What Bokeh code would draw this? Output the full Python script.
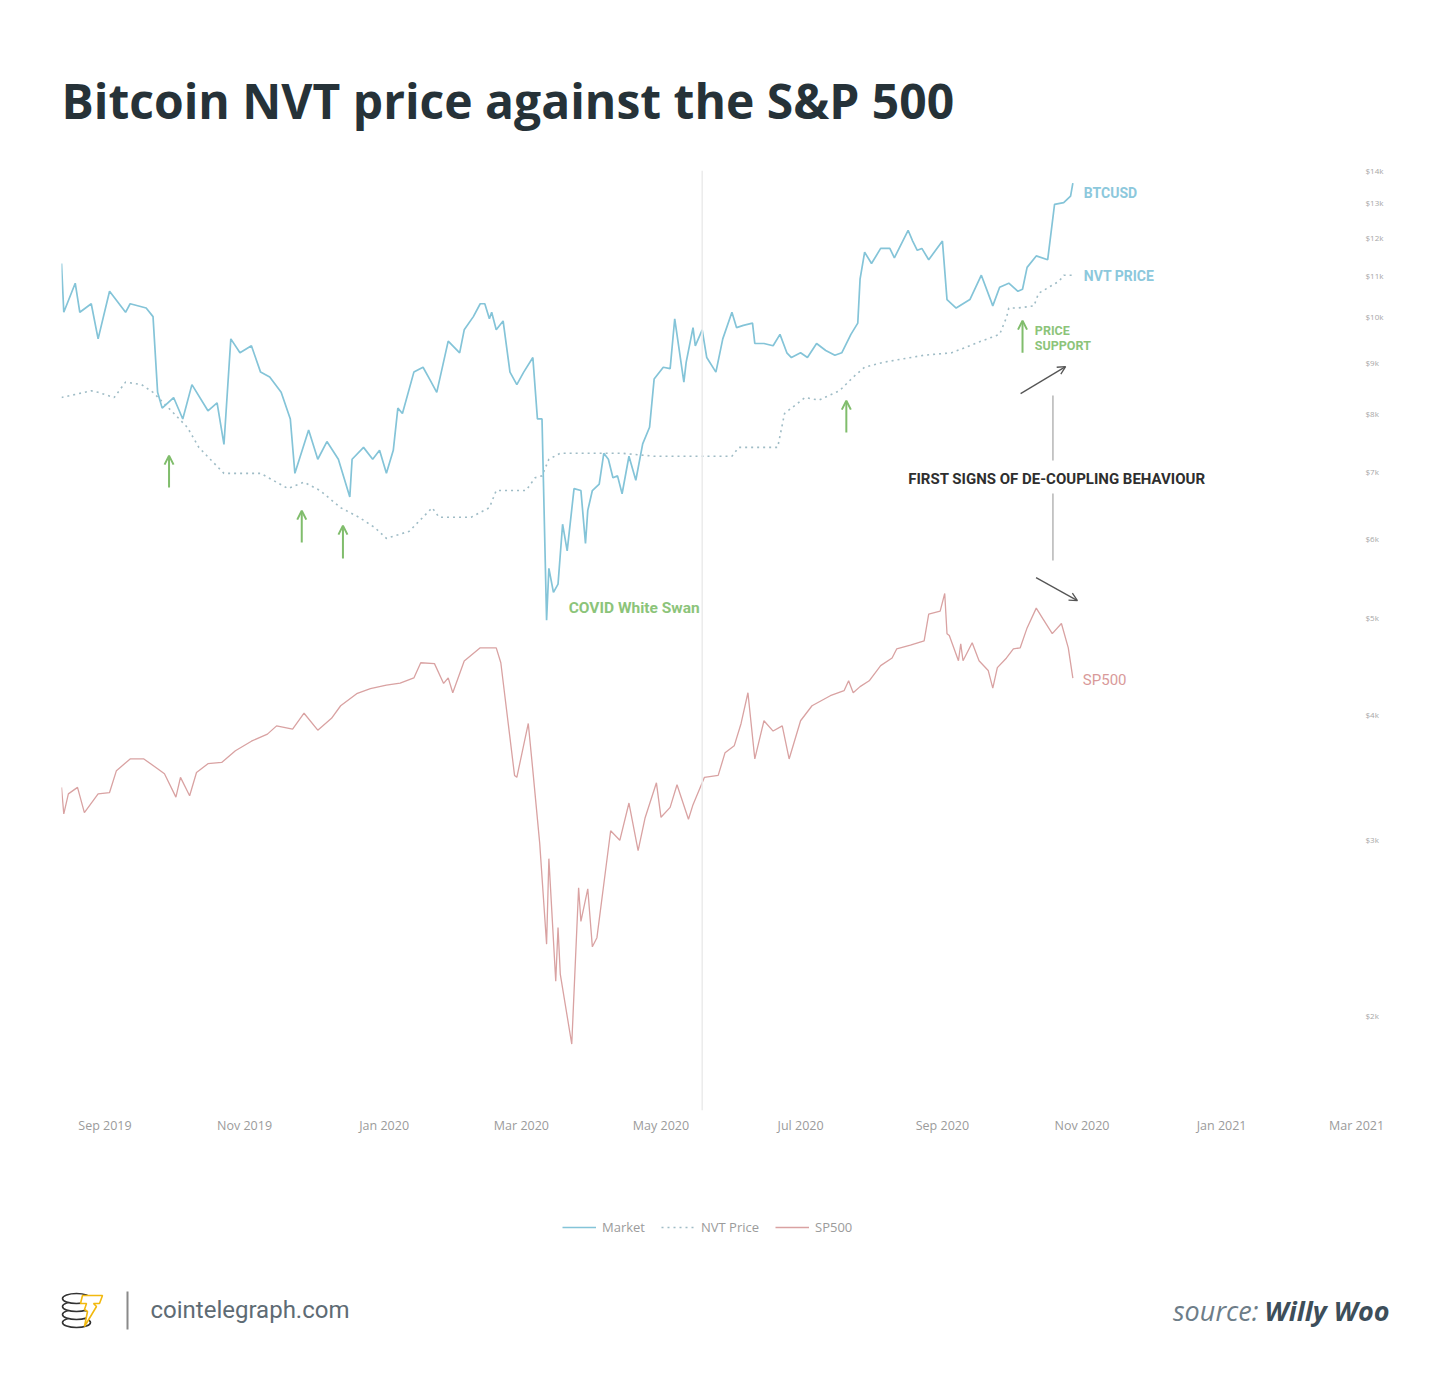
import pandas as pd
import numpy as np
from bokeh.plotting import figure
from bokeh.layouts import column
from bokeh.models import (Range1d, LogScale, FixedTicker, Span, Label, Arrow, OpenHead,
                          Legend, LegendItem)
from bokeh.embed import file_html
from bokeh.resources import INLINE

# ---------------- data ----------------
btc_dates = ["2019-08-13","2019-08-14","2019-08-19","2019-08-21","2019-08-26","2019-08-29","2019-09-03","2019-09-10","2019-09-12","2019-09-19",
             "2019-09-22","2019-09-24","2019-09-26","2019-10-01","2019-10-05","2019-10-09","2019-10-16","2019-10-20","2019-10-23","2019-10-26",
             "2019-10-30","2019-11-04","2019-11-08","2019-11-12","2019-11-17","2019-11-21","2019-11-23","2019-11-29","2019-12-03","2019-12-07",
             "2019-12-12","2019-12-17","2019-12-18","2019-12-23","2019-12-27","2019-12-30","2020-01-02","2020-01-05","2020-01-07","2020-01-09",
             "2020-01-14","2020-01-18","2020-01-21","2020-01-24","2020-01-29","2020-02-03","2020-02-05","2020-02-09","2020-02-12","2020-02-14",
             "2020-02-16","2020-02-17","2020-02-19","2020-02-22","2020-02-25","2020-02-28","2020-03-02","2020-03-06","2020-03-08","2020-03-10",
             "2020-03-12","2020-03-13","2020-03-15","2020-03-17","2020-03-19","2020-03-21","2020-03-24","2020-03-27","2020-03-29","2020-03-30",
             "2020-04-01","2020-04-04","2020-04-06","2020-04-08","2020-04-10","2020-04-12","2020-04-14","2020-04-17","2020-04-20","2020-04-23",
             "2020-04-26","2020-04-28","2020-05-02","2020-05-05","2020-05-07","2020-05-11","2020-05-12","2020-05-15","2020-05-16","2020-05-19",
             "2020-05-21","2020-05-25","2020-05-28","2020-06-01","2020-06-03","2020-06-06","2020-06-10","2020-06-11","2020-06-15","2020-06-19",
             "2020-06-22","2020-06-25","2020-06-27","2020-07-01","2020-07-04","2020-07-08","2020-07-12","2020-07-16","2020-07-19","2020-07-23",
             "2020-07-26","2020-07-27","2020-07-29","2020-08-01","2020-08-05","2020-08-09","2020-08-11","2020-08-17","2020-08-19","2020-08-21",
             "2020-08-23","2020-08-26","2020-09-01","2020-09-03","2020-09-07","2020-09-13","2020-09-18","2020-09-22","2020-09-23","2020-09-26",
             "2020-09-30","2020-10-04","2020-10-06","2020-10-08","2020-10-12","2020-10-17","2020-10-20","2020-10-24","2020-10-27","2020-10-28"]
btc_values = [11300,10100,10800,10100,10300,9500,10600,10100,10300,10200,
              10000,8400,8100,8300,7900,8550,8050,8200,7450,9500,
              9200,9350,8800,8700,8400,7900,6970,7700,7200,7500,
              7200,6600,7200,7400,7200,7350,6970,7350,8100,8000,
              8800,8900,8650,8400,9450,9200,9700,10000,10300,10300,
              9950,10100,9700,9900,8800,8550,8800,9100,7900,7900,
              4970,5600,5300,5400,6200,5830,6730,6700,5930,6400,
              6700,6800,7300,7200,6900,6930,6650,7250,6860,7460,
              7750,8660,8900,8870,9950,8600,9000,9750,9350,9700,
              9100,8800,9500,10100,9750,9800,9850,9400,9400,9350,
              9600,9200,9100,9200,9100,9400,9250,9150,9200,9600,
              9850,10900,11600,11300,11700,11700,11450,12200,11900,11650,
              11700,11400,11900,10400,10200,10400,11000,10400,10250,10700,
              10800,10600,10650,11200,11500,11400,12950,13000,13200,13600]

nvt_dates = ["2019-08-13","2019-08-26","2019-08-29","2019-09-05","2019-09-10","2019-09-17","2019-09-22","2019-09-30","2019-10-07","2019-10-12",
             "2019-10-17","2019-10-23","2019-11-08","2019-11-20","2019-11-27","2019-12-04","2019-12-13","2019-12-21","2019-12-28","2020-01-02",
             "2020-01-12","2020-01-22","2020-01-25","2020-02-08","2020-02-16","2020-02-19","2020-03-03","2020-03-07","2020-03-10","2020-03-13",
             "2020-03-18","2020-04-14","2020-04-28","2020-06-01","2020-06-04","2020-06-21","2020-06-24","2020-06-27","2020-07-03","2020-07-09",
             "2020-07-18","2020-07-24","2020-07-29","2020-08-06","2020-08-24","2020-09-05","2020-09-18","2020-09-26","2020-09-29","2020-09-30",
             "2020-10-04","2020-10-11","2020-10-13","2020-10-22","2020-10-24","2020-10-28"]
nvt_values = [8300,8430,8400,8300,8600,8550,8400,8050,7750,7400,
              7200,6970,6970,6730,6830,6700,6440,6300,6150,6000,
              6100,6440,6300,6300,6440,6700,6700,6900,6930,7200,
              7300,7300,7250,7250,7400,7400,8000,8100,8300,8250,
              8430,8700,8900,9000,9150,9200,9450,9600,9980,10200,
              10200,10250,10550,10850,11000,11000]

sp_dates = ["2019-08-13","2019-08-14","2019-08-16","2019-08-20","2019-08-23","2019-08-29","2019-09-03","2019-09-06","2019-09-12","2019-09-18",
            "2019-09-24","2019-09-27","2019-10-02","2019-10-04","2019-10-08","2019-10-11","2019-10-16","2019-10-22","2019-10-28","2019-11-04",
            "2019-11-11","2019-11-15","2019-11-22","2019-11-27","2019-12-03","2019-12-09","2019-12-13","2019-12-20","2019-12-26","2020-01-02",
            "2020-01-08","2020-01-14","2020-01-17","2020-01-23","2020-01-27","2020-01-29","2020-01-31","2020-02-05","2020-02-12","2020-02-19",
            "2020-02-21","2020-02-27","2020-02-28","2020-03-04","2020-03-06","2020-03-09","2020-03-12","2020-03-13","2020-03-16","2020-03-17",
            "2020-03-18","2020-03-23","2020-03-26","2020-03-27","2020-03-30","2020-04-01","2020-04-03","2020-04-09","2020-04-13","2020-04-17",
            "2020-04-21","2020-04-24","2020-04-29","2020-05-01","2020-05-05","2020-05-08","2020-05-13","2020-05-15","2020-05-20","2020-05-26",
            "2020-05-29","2020-06-02","2020-06-05","2020-06-08","2020-06-11","2020-06-15","2020-06-19","2020-06-23","2020-06-26","2020-07-01",
            "2020-07-06","2020-07-10","2020-07-14","2020-07-20","2020-07-22","2020-07-24","2020-07-27","2020-07-31","2020-08-05","2020-08-10",
            "2020-08-12","2020-08-18","2020-08-24","2020-08-26","2020-08-31","2020-09-02","2020-09-03","2020-09-04","2020-09-08","2020-09-09",
            "2020-09-10","2020-09-14","2020-09-17","2020-09-21","2020-09-23","2020-09-25","2020-09-29","2020-10-02","2020-10-05","2020-10-08",
            "2020-10-12","2020-10-15","2020-10-19","2020-10-23","2020-10-26","2020-10-28"]
sp_values = [2922,2841,2902,2922,2845,2902,2906,2974,3011,3011,
             2980,2964,2892,2953,2896,2968,2996,3000,3037,3068,
             3091,3118,3107,3160,3104,3143,3185,3226,3243,3255,
             3262,3280,3333,3330,3261,3280,3229,3339,3386,3386,
             3333,2959,2953,3126,2974,2754,2476,2710,2381,2520,
             2398,2228,2628,2536,2625,2469,2493,2791,2763,2874,
             2733,2828,2936,2831,2861,2930,2825,2869,2953,2959,
             3031,3053,3126,3229,3011,3135,3101,3118,3011,3135,
             3185,3202,3219,3236,3270,3229,3250,3270,3323,3350,
             3382,3396,3411,3509,3520,3586,3437,3430,3340,3400,
             3340,3404,3340,3306,3245,3316,3350,3382,3386,3458,
             3531,3490,3437,3474,3386,3279]

x_tick_dates = ["2019-09-01","2019-11-01","2020-01-01","2020-03-01","2020-05-01","2020-07-01",
                "2020-09-01","2020-11-01","2021-01-01","2021-03-01"]
x_tick_labels = ["Sep 2019","Nov 2019","Jan 2020","Mar 2020","May 2020","Jul 2020",
                 "Sep 2020","Nov 2020","Jan 2021","Mar 2021"]
y_tick_values = [2000,3000,4000,5000,6000,7000,8000,9000,10000,11000,12000,13000,14000]
y_tick_labels = ["$2k","$3k","$4k","$5k","$6k","$7k","$8k","$9k","$10k","$11k","$12k","$13k","$14k"]

# support arrows (date, tip value, tail value) on the BTC scale
support_dates = ["2019-09-29","2019-11-26","2019-12-14","2020-07-21","2020-10-06"]
support_tips = [7261,6397,6180,8241,9908]
support_tails = [6745,5943,5728,7656,9204]

divider_date = "2020-05-19"

legend_labels = ["Market", "NVT Price", "SP500"]

def ms(d):
    return pd.Timestamp(d).value / 1e6

W = 1434
HEAD_H, MAIN_H, FOOT_H = 140, 1010, 224
BTC_COLOR, NVT_COLOR, SP_COLOR = "#84c4d8", "#9fbcc6", "#d9a2a2"


def blank(height, y0):
    f = figure(width=W, height=height, x_range=Range1d(0, W), y_range=Range1d(y0 + height, y0),
               x_axis_location=None, y_axis_location=None, output_backend="svg",
               toolbar_location=None, min_border=0, frame_align=False)
    f.outline_line_color = None
    f.grid.visible = False
    return f

# ---------------- header ----------------
head = blank(HEAD_H, 0)
head.add_layout(Label(x=61, y=100, text="Bitcoin NVT price against the S&P 500", text_baseline="alphabetic",
                      text_font="Open Sans", text_font_style="bold", text_font_size="48px",
                      text_color="#263238"))

# ---------------- main chart ----------------
p = figure(width=W, height=MAIN_H, x_axis_type="datetime", y_axis_type="log",
           y_axis_location="right",
           x_range=Range1d(pd.Timestamp("2019-08-13"), pd.Timestamp("2021-03-03 14:00")),
           y_range=Range1d(1607, 14000),
           output_backend="svg", toolbar_location=None, frame_align=False,
           min_border_left=61, min_border_right=72, min_border_top=30, min_border_bottom=40)
p.extra_y_ranges = {"sp": Range1d(2077, 5606)}
p.extra_y_scales = {"sp": LogScale()}
p.outline_line_color = None
p.grid.visible = False

xa = p.xaxis[0]
xa.ticker = FixedTicker(ticks=[ms(d) for d in x_tick_dates])
xa.major_label_overrides = {ms(d): lab for d, lab in zip(x_tick_dates, x_tick_labels)}
xa.axis_line_color = None
xa.major_tick_line_color = None
xa.minor_tick_line_color = None
xa.major_label_standoff = 0
xa.major_label_text_font = "Open Sans"
xa.major_label_text_font_size = "12.5px"
xa.major_label_text_color = "#9b9b9b"

ya = p.yaxis[0]
ya.ticker = FixedTicker(ticks=y_tick_values)
ya.major_label_overrides = {v: lab for v, lab in zip(y_tick_values, y_tick_labels)}
ya.axis_line_color = None
ya.major_tick_line_color = None
ya.minor_tick_line_color = None
ya.major_label_standoff = -3
ya.major_label_text_font = "Open Sans"
ya.major_label_text_font_size = "8px"
ya.major_label_text_color = "#a6a6a6"

p.add_layout(Span(location=ms(divider_date), dimension="height", line_color="#ebebeb", line_width=1.5))

p.line(pd.to_datetime(sp_dates), sp_values, y_range_name="sp", line_color=SP_COLOR, line_width=1.3)
p.line(pd.to_datetime(nvt_dates), nvt_values, line_color=NVT_COLOR, line_width=1.6, line_dash="2 4")
p.line(pd.to_datetime(btc_dates), btc_values, line_color=BTC_COLOR, line_width=1.7)

green = "#8cc47a"
p.add_layout(Label(x=ms(btc_dates[-1]), y=btc_values[-1], text="BTCUSD", x_offset=11, y_offset=-9.5,
                   text_baseline="middle", text_font="Roboto", text_font_style="bold",
                   text_font_size="14px", text_color="#8cc8dc"))
p.add_layout(Label(x=ms(nvt_dates[-1]), y=nvt_values[-1], text="NVT PRICE", x_offset=11, y_offset=-1,
                   text_baseline="middle", text_font="Roboto", text_font_style="bold",
                   text_font_size="14px", text_color="#8cc8dc"))
p.add_layout(Label(x=ms(sp_dates[-1]), y=sp_values[-1], y_range_name="sp", text="SP500",
                   x_offset=10, y_offset=-1.5, text_baseline="middle", text_font="Roboto",
                   text_font_size="15px", text_color="#d99a9a"))

p.add_layout(Label(x=ms("2020-03-21 16:00"), y=5117, text="COVID White Swan", text_baseline="middle",
                   text_font="Roboto", text_font_style="bold", text_font_size="15.5px", text_color=green))
p.add_layout(Label(x=ms("2020-10-11 09:00"), y=9683, text="PRICE", text_baseline="middle",
                   text_font="Roboto", text_font_style="bold", text_font_size="12.5px", text_color=green))
p.add_layout(Label(x=ms("2020-10-11 09:00"), y=9354, text="SUPPORT", text_baseline="middle",
                   text_font="Roboto", text_font_style="bold", text_font_size="12.5px", text_color=green))
p.add_layout(Label(x=ms("2020-10-21"), y=6887, text="FIRST SIGNS OF DE-COUPLING BEHAVIOUR",
                   text_align="center", text_baseline="middle", text_font="Roboto",
                   text_font_style="bold", text_font_size="15px", text_color="#2e2e2e"))

for d, tip, tail in zip(support_dates, support_tips, support_tails):
    p.add_layout(Arrow(end=OpenHead(size=9, line_color="#80bd6c", line_width=2),
                       x_start=ms(d), y_start=tail, x_end=ms(d), y_end=tip,
                       line_color="#80bd6c", line_width=2))

gray = "#555555"
p.add_layout(Arrow(end=OpenHead(size=8, line_color=gray, line_width=1.3),
                   x_start=ms("2020-10-05 04:00"), y_start=8375, x_end=ms("2020-10-24 20:00"), y_end=8913,
                   line_color=gray, line_width=1.3))
p.add_layout(Arrow(end=OpenHead(size=8, line_color=gray, line_width=1.3),
                   x_start=ms("2020-10-11 22:00"), y_start=5483, x_end=ms("2020-10-30"), y_end=5200,
                   line_color=gray, line_width=1.3))
vx = ms("2020-10-19 07:00")
p.segment(x0=[vx, vx], y0=[8337, 6653], x1=[vx, vx], y1=[7178, 5702], line_color="#aaaaaa", line_width=1.3)

# ---------------- footer (legend + branding) ----------------
FOOT_Y0 = HEAD_H + MAIN_H
foot = blank(FOOT_H, FOOT_Y0)
# legend proxies: lines placed off-screen so only their legend glyphs show
off_x, off_y = [-200, -150], [FOOT_Y0 + 10, FOOT_Y0 + 10]
lr_btc = foot.line(x=off_x, y=off_y, line_color=BTC_COLOR, line_width=1.7)
lr_nvt = foot.line(x=off_x, y=off_y, line_color=NVT_COLOR, line_width=1.6, line_dash="2 4")
lr_sp = foot.line(x=off_x, y=off_y, line_color=SP_COLOR, line_width=1.3)
leg = Legend(items=[LegendItem(label=legend_labels[0], renderers=[lr_btc]),
                    LegendItem(label=legend_labels[1], renderers=[lr_nvt]),
                    LegendItem(label=legend_labels[2], renderers=[lr_sp])],
             orientation="horizontal", location=(562, 138),
             glyph_width=34, glyph_height=12, label_standoff=6, spacing=16, padding=10,
             label_text_font="Open Sans", label_text_font_size="13px", label_text_color="#9b9b9b",
             border_line_color=None, background_fill_alpha=0)
foot.add_layout(leg, "center")

foot.ellipse(x=[76, 76, 76, 76], y=[1322, 1314, 1306, 1298], width=28, height=10,
             fill_color="white", line_color="#333333", line_width=1.6)
bolt_x = [82, 102, 99, 93, 96, 84, 87, 84, 86, 80]
bolt_y = [1295, 1295, 1303, 1303, 1306, 1326, 1311, 1309, 1303, 1303]
foot.patch(bolt_x, bolt_y, fill_color="white", line_color="#f2b90f", line_width=1.6)
foot.segment(x0=[127], y0=[1291], x1=[127], y1=[1329], line_color="#8a8a8a", line_width=2)
foot.add_layout(Label(x=150, y=1309, text="cointelegraph.com", text_baseline="middle",
                      text_font="Roboto", text_font_size="24px", text_color="#5e6b74"))
foot.add_layout(Label(x=1389, y=1310, text="Willy Woo", text_align="right", text_baseline="middle",
                      text_font="Open Sans", text_font_style="bold italic", text_font_size="27px",
                      text_color="#3d4e5a"))
foot.add_layout(Label(x=1258, y=1310, text="source:", text_align="right", text_baseline="middle",
                      text_font="Open Sans", text_font_style="italic", text_font_size="27px",
                      text_color="#6d7d88"))

layout = column(head, p, foot, spacing=0)
open("out.html", "w").write(file_html(layout, INLINE))
